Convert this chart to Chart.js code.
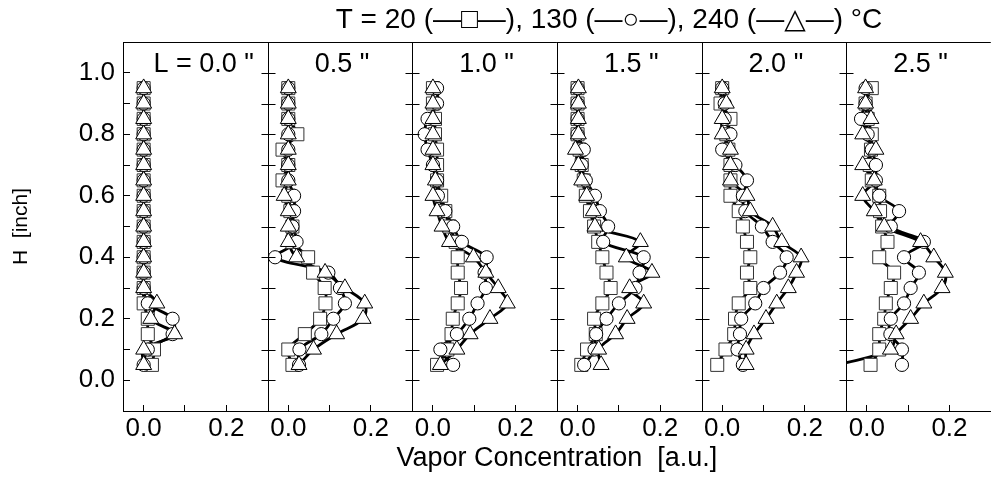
<!DOCTYPE html>
<html>
<head>
<meta charset="utf-8">
<script src="https://cdn.jsdelivr.net/npm/chart.js@4.4.1/dist/chart.umd.min.js"></script>
<style>
  html, body { margin: 0; padding: 0; background: #fff; overflow: hidden; }
  #wrap { position: relative; width: 997px; height: 499px; overflow: hidden; }
  canvas { display: block; }
</style>
</head>
<body>
<div id="wrap"><canvas id="chart" width="1001" height="499"></canvas></div>
<script>
// heights of the measuring points [inch]
const HEIGHTS = [0.05, 0.10, 0.15, 0.20, 0.25, 0.30, 0.35, 0.40, 0.45, 0.50,
                 0.55, 0.60, 0.65, 0.70, 0.75, 0.80, 0.85, 0.90, 0.95];

const PANEL_LABELS = ['L = 0.0 "', '0.5 "', '1.0 "', '1.5 "', '2.0 "', '2.5 "'];
const TITLE = 'T = 20 (\u2014\u25A1\u2014), 130 (\u2014\u25CB\u2014), 240 (\u2014\u25B3\u2014) \u00B0C';
const X_TICKS = [0.0, 0.1, 0.2];
const Y_TICKS = [0.0, 0.1, 0.2, 0.3, 0.4, 0.5, 0.6, 0.7, 0.8, 0.9, 1.0];

// vapor concentration, one row per panel (L = 0.0 ... 2.5"), bottom to top
const CONC_T20 = [
  [0.02, 0.025, 0.01, 0.01, 0.0, 0, 0, 0, 0, 0, 0, 0, 0, 0, 0, 0, 0, 0, 0],
  [0.01, 0.0, 0.04, 0.077, 0.09, 0.088, 0.06, 0.048, 0.01, 0.01, 0.005, 0.0, -0.014, 0.0, -0.014, 0.022, 0.0, 0.0, 0.0],
  [0.01, 0.035, 0.045, 0.048, 0.06, 0.068, 0.06, 0.06, 0.055, 0.04, 0.03, 0.02, 0.01, 0.01, 0.01, 0.005, 0.005, 0.0, 0.0],
  [0.009, 0.023, 0.044, 0.04, 0.06, 0.08, 0.07, 0.06, 0.05, 0.04, 0.03, 0.02, 0.015, 0.01, 0.005, 0.0, 0.0, 0.0, 0.0],
  [-0.012, 0.008, 0.029, 0.031, 0.04, 0.068, 0.06, 0.068, 0.06, 0.05, 0.04, 0.02, 0.02, 0.02, 0.015, 0.01, 0.02, -0.004, 0.0],
  [0.009, 0.03, 0.03, 0.042, 0.046, 0.058, 0.066, 0.03, 0.05, 0.037, 0.032, 0.03, 0.012, 0.007, 0.01, 0.012, 0.002, -0.003, 0.012]
];
const CONC_T130 = [
  [0.0, 0.01, 0.07, 0.07, 0.01, 0, 0, 0, 0, 0, 0, 0, 0, 0, 0, 0, 0, 0, 0],
  [0.026, 0.027, 0.08, 0.109, 0.137, 0.125, 0.097, -0.032, 0.02, 0.01, 0.014, 0.014, 0.0, 0.0, 0.0, 0.0, 0.0, 0.0, 0.0],
  [0.049, 0.018, 0.058, 0.088, 0.108, 0.128, 0.125, 0.13, 0.07, 0.049, 0.03, 0.012, 0.01, 0.0, -0.013, -0.02, -0.013, 0.01, 0.01],
  [0.016, 0.041, 0.045, 0.07, 0.10, 0.14, 0.15, 0.16, 0.062, 0.074, 0.054, 0.042, 0.02, 0.01, 0.015, 0.0, 0.0, 0.0, 0.0],
  [0.05, 0.037, 0.043, 0.046, 0.08, 0.1, 0.14, 0.156, 0.122, 0.096, 0.056, 0.05, 0.06, 0.032, 0.0, 0.02, 0.006, 0.006, 0.0],
  [0.085, 0.085, 0.057, 0.058, 0.09, 0.106, 0.126, 0.09, 0.138, 0.058, 0.078, 0.03, 0.022, 0.022, 0.012, 0.002, -0.014, -0.003, -0.003]
];
const CONC_T240 = [
  [0.0, 0.0, 0.075, 0.017, 0.032, 0, 0, 0, 0, 0, 0, 0, 0, 0, 0, 0, 0, 0, 0],
  [0.026, 0.061, 0.117, 0.181, 0.185, 0.137, 0.089, 0.02, 0.0, 0.0, 0.0, -0.01, 0.0, 0.0, 0.0, 0.0, 0.0, 0.0, 0.0],
  [0.018, 0.058, 0.09, 0.138, 0.18, 0.158, 0.128, 0.098, 0.04, 0.022, 0.01, 0.0, 0.006, 0.0, 0.0, 0.0, 0.0, 0.0, 0.0],
  [0.057, 0.051, 0.092, 0.12, 0.16, 0.126, 0.18, 0.118, 0.152, 0.042, 0.038, 0.022, 0.01, 0.002, -0.005, 0.002, 0.002, 0.002, 0.002],
  [0.058, 0.058, 0.077, 0.106, 0.132, 0.16, 0.18, 0.191, 0.144, 0.122, 0.068, 0.06, 0.02, 0.02, 0.02, 0.0, 0.0, 0.01, 0.0],
  [-0.07, 0.057, 0.071, 0.106, 0.138, 0.182, 0.19, 0.162, 0.13, 0.042, 0.018, -0.01, 0.018, -0.01, 0.022, -0.01, 0.01, -0.003, -0.003]
];

const FONT = "'Liberation Sans', Arial, 'DejaVu Sans', sans-serif";
const PANEL_KEYS = PANEL_LABELS.map((_, i) => 'x' + i);

const series = [
  { values: CONC_T20,  shape: 'rect',     radius: 9.2, stroke: '#333', order: 3 },
  { values: CONC_T130, shape: 'circle',   radius: 6.6, stroke: '#000', order: 2 },
  { values: CONC_T240, shape: 'triangle', radius: 9.2, stroke: '#000', order: 1 }
];

// build datasets: lines below, markers on top
const datasets = [];
PANEL_KEYS.forEach((key, p) => {
  series.forEach(s => {
    const pts = HEIGHTS.map((h, j) => ({ x: s.values[p][j], y: h }));
    datasets.push({
      data: pts, xAxisID: key, yAxisID: 'y', order: 10,
      showLine: true, borderColor: '#000', borderWidth: 2.8, tension: 0.35,
      pointRadius: 0
    });
    datasets.push({
      data: pts, xAxisID: key, yAxisID: 'y', order: s.order,
      showLine: false, pointStyle: s.shape, pointRadius: s.radius,
      pointBackgroundColor: '#fff', pointBorderColor: s.stroke, pointBorderWidth: 1
    });
  });
});

const scales = {};
PANEL_KEYS.forEach(key => {
  scales[key] = {
    type: 'linear', position: 'bottom', stack: 'panels', min: -0.05, max: 0.3,
    afterBuildTicks: sc => { sc.ticks = X_TICKS.map(v => ({ value: v })); },
    afterFit: sc => { sc.height = 40; },
    grid: { drawOnChartArea: false, tickLength: -6, color: '#000' },
    border: { display: true, color: '#000', width: 1 },
    ticks: {
      padding: 8, color: '#000', font: { family: FONT, size: 26 },
      maxRotation: 0, minRotation: 0, autoSkip: false,
      callback: v => (Math.round(v * 10) % 2 === 0 ? v.toFixed(1) : '')
    }
  };
});
scales.xt = {
  type: 'linear', position: 'bottom', weight: 1, min: 0, max: 1,
  afterFit: sc => { sc.height = 48; },
  grid: { display: false }, border: { display: false }, ticks: { display: false },
  title: { display: true, text: 'Vapor Concentration  [a.u.]', color: '#000',
           font: { family: FONT, size: 27 }, padding: { top: 0, bottom: 24 } }
};
scales.y = {
  type: 'linear', position: 'left', min: -0.1, max: 1.1,
  afterBuildTicks: sc => { sc.ticks = Y_TICKS.map(v => ({ value: v })); },
  afterFit: sc => { sc.width = 123; },
  grid: { drawOnChartArea: false, tickLength: -7, color: '#000' },
  border: { display: true, color: '#000', width: 1 },
  ticks: {
    padding: 15, color: '#000', font: { family: FONT, size: 26 },
    callback: v => (Math.round(v * 10) % 2 === 0 ? v.toFixed(1) : '')
  },
  title: { display: true, text: 'H  [inch]', color: '#000',
           font: { family: FONT, size: 21 }, padding: { top: 9, bottom: 0 } }
};

// panel frames, inner y ticks on every panel edge, panel labels, title
const panelFrame = {
  id: 'panelFrame',
  afterDraw(chart) {
    const { ctx, chartArea, scales: sc } = chart;
    const y = sc.y;
    ctx.save();
    ctx.strokeStyle = '#000';
    ctx.lineWidth = 1;
    ctx.beginPath();
    ctx.moveTo(chartArea.left, chartArea.top + 0.5);
    ctx.lineTo(chartArea.right, chartArea.top + 0.5);
    PANEL_KEYS.forEach((key, i) => {
      const s = sc[key];
      if (i > 0) {
        const xe = Math.round(s.left) + 0.5;
        ctx.moveTo(xe, chartArea.top);
        ctx.lineTo(xe, chartArea.bottom);
        Y_TICKS.forEach(v => {
          const py = Math.round(y.getPixelForValue(v)) + 0.5;
          ctx.moveTo(xe - 7, py);
          ctx.lineTo(xe + 7, py);
        });
      }
    });
    ctx.stroke();
    ctx.fillStyle = '#000';
    ctx.textAlign = 'center';
    ctx.textBaseline = 'middle';
    ctx.font = '27px ' + FONT;
    PANEL_KEYS.forEach((key, i) => {
      const s = sc[key];
      ctx.fillText(PANEL_LABELS[i], s.getPixelForValue(i === 0 ? 0.145 : 0.13), chartArea.top + 23);
    });
    ctx.font = '28px ' + FONT;
    ctx.fillText(TITLE, chartArea.left + 0.56 * chartArea.width, 20);
    ctx.restore();
  }
};

new Chart(document.getElementById('chart'), {
  type: 'scatter',
  data: { datasets },
  options: {
    responsive: false,
    animation: false,
    layout: { padding: { top: 42, left: 0, right: 0, bottom: 0 } },
    scales,
    plugins: {
      legend: { display: false },
      tooltip: { enabled: false },
      title: { display: false }
    }
  },
  plugins: [panelFrame]
});
</script>
</body>
</html>
